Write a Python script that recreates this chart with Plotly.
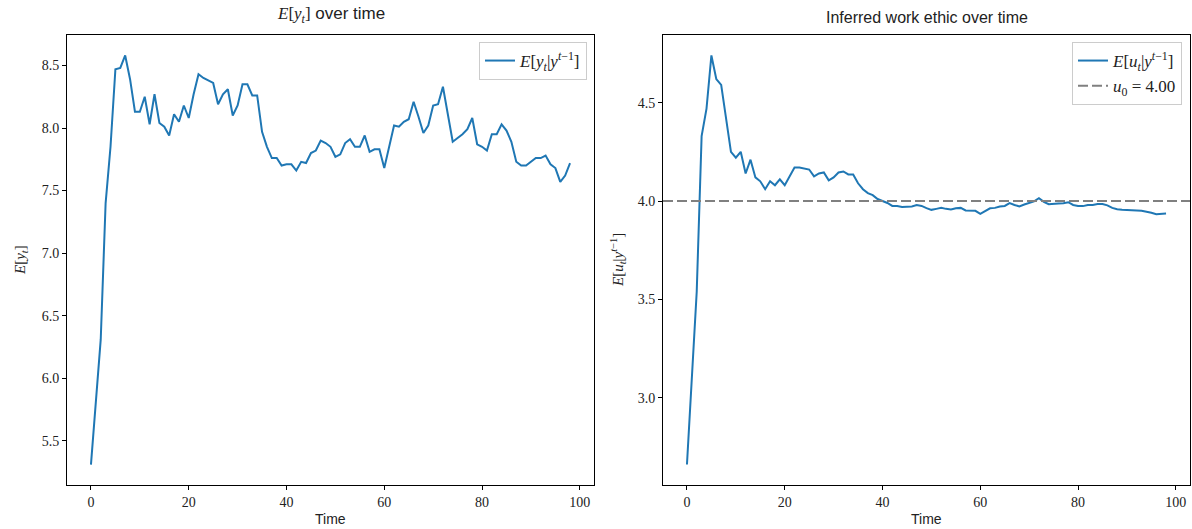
import plotly.graph_objects as go

# ---- data ----
t = list(range(99))

ey = [5.31, 5.80, 6.31, 7.40, 7.85, 8.47, 8.48, 8.58, 8.39, 8.13,
      8.13, 8.25, 8.03, 8.27, 8.04, 8.01, 7.94, 8.11, 8.05, 8.18,
      8.08, 8.27, 8.43, 8.40, 8.38, 8.36, 8.19, 8.27, 8.31, 8.10,
      8.18, 8.35, 8.35, 8.26, 8.26, 7.97, 7.85, 7.76, 7.76, 7.70,
      7.71, 7.71, 7.66, 7.73, 7.72, 7.80, 7.82, 7.90, 7.88, 7.85,
      7.77, 7.79, 7.88, 7.91, 7.85, 7.85, 7.94, 7.81, 7.83, 7.83,
      7.68, 7.84, 8.02, 8.01, 8.05, 8.07, 8.21, 8.09, 7.96, 8.02,
      8.18, 8.19, 8.33, 8.11, 7.89, 7.92, 7.95, 7.99, 8.08, 7.87,
      7.85, 7.82, 7.95, 7.95, 8.03, 7.98, 7.89, 7.73, 7.70, 7.70,
      7.73, 7.76, 7.76, 7.78, 7.71, 7.68, 7.57, 7.62, 7.72]

eu = [2.66, 3.12, 3.54, 4.33, 4.47, 4.74, 4.62, 4.59, 4.43, 4.25,
      4.22, 4.25, 4.14, 4.21, 4.12, 4.10, 4.06, 4.10, 4.08, 4.11,
      4.08, 4.125, 4.17, 4.17, 4.165, 4.16, 4.125, 4.14, 4.145, 4.105,
      4.12, 4.145, 4.15, 4.135, 4.135, 4.09, 4.06, 4.04, 4.03, 4.01,
      4.00, 3.99, 3.975, 3.975, 3.97, 3.972, 3.972, 3.979, 3.975, 3.964,
      3.955, 3.96, 3.965, 3.96, 3.957, 3.963, 3.965, 3.952, 3.952, 3.95,
      3.935, 3.95, 3.963, 3.965, 3.972, 3.975, 3.989, 3.98, 3.972, 3.982,
      3.992, 3.998, 4.014, 3.996, 3.984, 3.984, 3.987, 3.989, 3.994, 3.98,
      3.975, 3.974, 3.98, 3.98, 3.985, 3.985, 3.978, 3.965, 3.958, 3.955,
      3.955, 3.953, 3.952, 3.95, 3.946, 3.94, 3.933, 3.933, 3.936]

u0 = 4.00

x_ticks = [0, 20, 40, 60, 80, 100]
left_y_ticks = [5.5, 6.0, 6.5, 7.0, 7.5, 8.0, 8.5]
right_y_ticks = [3.0, 3.5, 4.0, 4.5]

# ---- figure ----
W, H = 1192, 529
BLUE = "#1f77b4"
SERIF = "Liberation Serif, DejaVu Serif, serif"
SANS = "Liberation Sans, Arial, sans-serif"

fig = go.Figure()

fig.add_trace(go.Scatter(
    x=t, y=ey, mode="lines", line=dict(color=BLUE, width=2),
    name="<i>E</i>[<i>y</i><sub><i>t</i></sub>|<i>y</i><sup><i>t</i>−1</sup>]",
    xaxis="x", yaxis="y", legend="legend"))

fig.add_trace(go.Scatter(
    x=t, y=eu, mode="lines", line=dict(color=BLUE, width=2),
    name="<i>E</i>[<i>u</i><sub><i>t</i></sub>|<i>y</i><sup><i>t</i>−1</sup>]",
    xaxis="x2", yaxis="y2", legend="legend2"))

xr = [-4.9, 102.9]
fig.add_trace(go.Scatter(
    x=xr, y=[u0, u0], mode="lines",
    line=dict(color="#808080", width=2, dash="10px,4px"),
    name="<i>u</i><sub>0</sub> = 4.00",
    xaxis="x2", yaxis="y2", legend="legend2"))

def px_x(p):
    return p / W

def px_y(p):
    return 1 - p / H

axis_common = dict(
    showline=True, linecolor="black", linewidth=1, mirror=True,
    ticks="outside", ticklen=4, tickwidth=1, tickcolor="black",
    showgrid=False, zeroline=False,
    tickfont=dict(family=SERIF, size=14, color="#222"),
)

ey_min, ey_max = min(ey), max(ey)
m = (ey_max - ey_min) * 0.05
eu_min, eu_max = min(eu), max(eu)
m2 = (eu_max - eu_min) * 0.05

legend_common = dict(xanchor="right", yanchor="top",
                     bgcolor="rgba(255,255,255,0.8)", bordercolor="#cccccc", borderwidth=1,
                     font=dict(family=SERIF, size=17, color="#222"),
                     itemwidth=30, tracegroupgap=0)

fig.update_layout(
    width=W, height=H,
    margin=dict(l=0, r=0, t=0, b=0),
    paper_bgcolor="white", plot_bgcolor="white",
    showlegend=True,
    xaxis=dict(domain=[px_x(67), px_x(594)], range=xr, tickvals=x_ticks,
               anchor="y", **axis_common),
    yaxis=dict(domain=[px_y(485), px_y(35)], range=[ey_min - m, ey_max + m],
               tickvals=left_y_ticks, tickformat=".1f", anchor="x", **axis_common),
    xaxis2=dict(domain=[px_x(663), px_x(1190)], range=xr, tickvals=x_ticks,
                anchor="y2", **axis_common),
    yaxis2=dict(domain=[px_y(485), px_y(35)], range=[eu_min - m2, eu_max + m2],
                tickvals=right_y_ticks, tickformat=".1f", anchor="x2", **axis_common),
    legend=dict(x=px_x(587), y=px_y(42), **legend_common),
    legend2=dict(x=px_x(1182), y=px_y(42), **legend_common),
)

annots = [
    dict(text="<i>E</i>[<i>y</i><sub><i>t</i></sub>]<span style='font-family:Liberation Sans'> over time</span>",
         x=px_x(330.5), y=px_y(28), xanchor="center", yanchor="bottom",
         font=dict(family=SERIF, size=17, color="#222")),
    dict(text="Inferred work ethic over time",
         x=px_x(926.5), y=px_y(28), xanchor="center", yanchor="bottom",
         font=dict(family=SANS, size=16, color="#222")),
    dict(text="Time", x=px_x(330.5), y=px_y(519), xanchor="center", yanchor="middle",
         font=dict(family=SANS, size=14, color="#222")),
    dict(text="Time", x=px_x(926.5), y=px_y(519), xanchor="center", yanchor="middle",
         font=dict(family=SANS, size=14, color="#222")),
    dict(text="<i>E</i>[<i>y</i><sub><i>t</i></sub>]", x=px_x(21), y=px_y(260),
         xanchor="center", yanchor="middle", textangle=-90,
         font=dict(family=SERIF, size=15, color="#222")),
    dict(text="<i>E</i>[<i>u</i><sub><i>t</i></sub>|<i>y</i><sup><i>t</i>−1</sup>]",
         x=px_x(618), y=px_y(260), xanchor="center", yanchor="middle", textangle=-90,
         font=dict(family=SERIF, size=15, color="#222")),
]
for a in annots:
    a.update(xref="paper", yref="paper", showarrow=False)
fig.update_layout(annotations=annots)

fig.write_html("out.html")
